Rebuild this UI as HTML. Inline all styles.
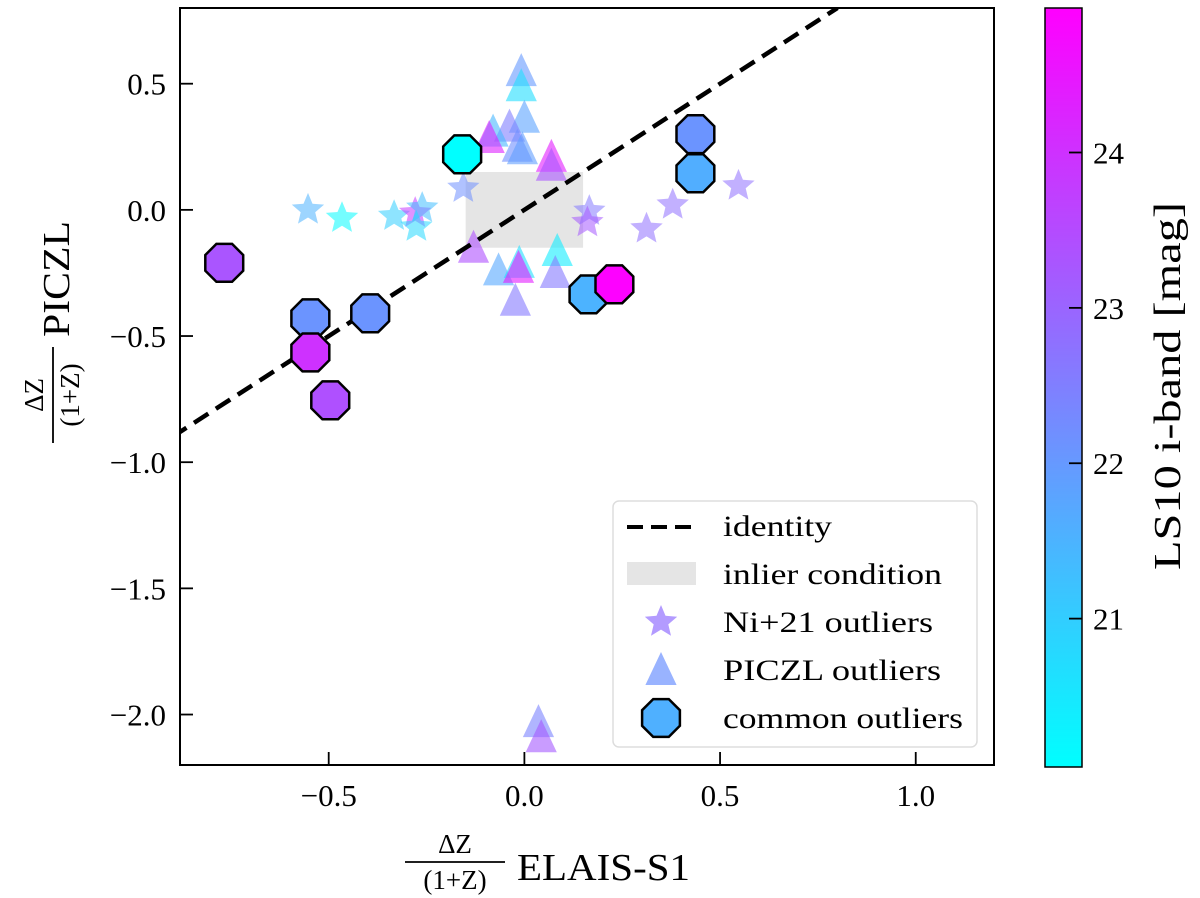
<!DOCTYPE html>
<html><head><meta charset="utf-8">
<style>
html,body{margin:0;padding:0;background:#fff;}
svg{display:block;font-family:"Liberation Serif",serif;}
</style></head>
<body>
<svg id="chart" width="1200" height="898" viewBox="0 0 1200 898">
<defs>
<linearGradient id="cmap" x1="0" y1="1" x2="0" y2="0">
<stop offset="0" stop-color="#00ffff"/><stop offset="1" stop-color="#ff00ff"/>
</linearGradient>
<clipPath id="plotclip"><rect x="180" y="8" width="814" height="757"/></clipPath>
</defs>
<rect x="180" y="8" width="814" height="757" fill="#fff"/>
<g id="marks" clip-path="url(#plotclip)"></g>
<g id="axes"></g>
<rect x="180" y="8" width="814" height="757" fill="none" stroke="#000" stroke-width="2"/>

<g>
<rect x="613" y="501" width="364" height="246" rx="6" fill="#fff" fill-opacity="0.85" stroke="#ddd" stroke-width="1.5"/>
<line x1="627" y1="527" x2="696" y2="527" stroke="#000" stroke-width="4" stroke-dasharray="16,8"/>
<text x="723" y="536" font-size="30" textLength="109" lengthAdjust="spacingAndGlyphs">identity</text>
<rect x="627" y="562" width="69" height="23" fill="#e5e5e5"/>
<text x="723" y="584" font-size="30" textLength="219" lengthAdjust="spacingAndGlyphs">inlier condition</text>
<g id="legStar"></g>
<text x="723" y="632" font-size="30" textLength="210" lengthAdjust="spacingAndGlyphs">Ni+21 outliers</text>
<g id="legTri"></g>
<text x="723" y="680" font-size="30" textLength="218" lengthAdjust="spacingAndGlyphs">PICZL outliers</text>
<g id="legOct"></g>
<text x="723" y="728" font-size="30" textLength="240" lengthAdjust="spacingAndGlyphs">common outliers</text>
</g>

<rect x="1045" y="8" width="37" height="759" fill="url(#cmap)" stroke="#000" stroke-width="1.5"/>
<g id="cbticks"></g>
<text transform="translate(1180,386) rotate(-90)" text-anchor="middle" font-size="38" textLength="368" lengthAdjust="spacingAndGlyphs">LS10 i-band [mag]</text>

<g>
<text x="455" y="853" text-anchor="middle" font-size="27">ΔZ</text>
<line x1="405" y1="862" x2="505" y2="862" stroke="#000" stroke-width="1.8"/>
<text x="455" y="889" text-anchor="middle" font-size="27">(1+Z)</text>
<text x="517" y="880" font-size="38" textLength="173" lengthAdjust="spacingAndGlyphs">ELAIS-S1</text>
</g>
<g transform="translate(52,315) rotate(-90)">
<text x="-80" y="-9" text-anchor="middle" font-size="27">ΔZ</text>
<line x1="-128" y1="1" x2="-32" y2="1" stroke="#000" stroke-width="1.8"/>
<text x="-80" y="27" text-anchor="middle" font-size="27">(1+Z)</text>
<text x="-22" y="17" font-size="38" textLength="116" lengthAdjust="spacingAndGlyphs">PICZL</text>
</g>
</svg>
<script>
// data
const xTicks = [-0.5, 0.0, 0.5, 1.0];
const xTickLabels = ["\u22120.5", "0.0", "0.5", "1.0"];
const yTicks = [0.5, 0.0, -0.5, -1.0, -1.5, -2.0];
const yTickLabels = ["0.5", "0.0", "\u22120.5", "\u22121.0", "\u22121.5", "\u22122.0"];
const cbTicks = [21, 22, 23, 24];
const cbTickLabels = ["21", "22", "23", "24"];

const commonX = [-0.767, -0.547, -0.547, -0.496, -0.394, -0.159, 0.164, 0.23, 0.437, 0.437];
const commonY = [-0.21, -0.43, -0.565, -0.755, -0.41, 0.22, -0.335, -0.295, 0.30, 0.145];
const commonMag = [23.3, 22.1, 24.0, 23.4, 22.1, 20.05, 21.5, 24.9, 22.1, 21.6];

const niX = [-0.553, -0.466, -0.333, -0.279, -0.261, -0.276, -0.156, 0.166, 0.161, 0.312, 0.379, 0.547];
const niY = [0.0, -0.033, -0.025, -0.013, 0.007, -0.068, 0.086, -0.005, -0.05, -0.075, 0.02, 0.095];
const niMag = [21.5, 20.1, 21.0, 23.8, 21.3, 20.8, 22.2, 22.6, 23.2, 22.8, 22.8, 22.8];

const picX = [-0.008, -0.008, 0.0, -0.038, -0.08, -0.09, -0.018, -0.005, 0.069, 0.069, -0.13, -0.066, -0.013, -0.015, 0.084, 0.079, -0.023, 0.036, 0.043];
const picY = [0.55, 0.49, 0.365, 0.33, 0.31, 0.285, 0.25, 0.24, 0.21, 0.175, -0.15, -0.24, -0.21, -0.23, -0.163, -0.25, -0.36, -2.03, -2.09];
const picMag = [22.0, 20.7, 21.8, 22.5, 21.4, 24.3, 22.2, 21.9, 24.4, 23.3, 23.4, 21.7, 20.7, 24.4, 20.4, 22.6, 22.6, 22.4, 23.2];

const identityX = [-0.9, 0.8];
const inlierBox = [-0.15, 0.15];

// axis functions
const X0=-0.88, X1=1.20, PX0=180, PX1=994;
const Y0=-2.2, Y1=0.8, PY0=765, PY1=8;
const VMIN=20.045, VMAX=24.93, CB0=767, CB1=8;
const sx = v => PX0 + (v-X0)/(X1-X0)*(PX1-PX0);
const sy = v => PY0 + (v-Y0)/(Y1-Y0)*(PY1-PY0);
const sc = v => CB0 + (v-VMIN)/(VMAX-VMIN)*(CB1-CB0);
function cmap(m){let t=(m-VMIN)/(VMAX-VMIN);t=Math.max(0,Math.min(1,t));
 return `rgb(${Math.round(255*t)},${Math.round(255*(1-t))},255)`;}

const NS="http://www.w3.org/2000/svg";
function mk(tag, attrs, parent){const e=document.createElementNS(NS,tag);for(const k in attrs)e.setAttribute(k,attrs[k]);parent.appendChild(e);return e;}
function octPts(cx,cy,r){let p=[];for(let i=0;i<8;i++){const a=Math.PI/8+i*Math.PI/4;p.push((cx+r*Math.cos(a)).toFixed(1)+","+(cy+r*Math.sin(a)).toFixed(1));}return p.join(" ");}
function starPts(cx,cy,R){const r=R*0.45;let p=[];for(let i=0;i<10;i++){const a=-Math.PI/2+i*Math.PI/5;const rr=i%2?r:R;p.push((cx+rr*Math.cos(a)).toFixed(1)+","+(cy+rr*Math.sin(a)).toFixed(1));}return p.join(" ");}
function triPts(cx,cy,s){return `${cx},${cy-s*0.6} ${cx-s*0.52},${cy+s*0.5} ${cx+s*0.52},${cy+s*0.5}`;}

const marks=document.getElementById('marks');
const box=mk('rect',{x:sx(inlierBox[0]),y:sy(inlierBox[1]),width:sx(inlierBox[1])-sx(inlierBox[0]),height:sy(inlierBox[0])-sy(inlierBox[1]),fill:'#e5e5e5'},marks);



niX.forEach((x,i)=>{
 const s=mk('polygon',{points:starPts(sx(x),sy(niY[i]),17),fill:cmap(niMag[i]),'fill-opacity':0.55},marks);
 
 
});
picX.forEach((x,i)=>{
 const t=mk('polygon',{points:triPts(sx(x),sy(picY[i]),30),fill:cmap(picMag[i]),'fill-opacity':0.6},marks);
 
 
});
const idl=mk('line',{x1:sx(identityX[0]),y1:sy(identityX[0]),x2:sx(identityX[1]),y2:sy(identityX[1]),stroke:'#000','stroke-width':4.5,'stroke-dasharray':'17,9'},marks);


commonX.forEach((x,i)=>{
 const o=mk('polygon',{points:octPts(sx(x),sy(commonY[i]),20.5),fill:cmap(commonMag[i]),stroke:'#000','stroke-width':2.5},marks);
 
 
});

const axes=document.getElementById('axes');
xTicks.forEach((v,i)=>{
 const l=mk('line',{x1:sx(v),x2:sx(v),y1:PY0,y2:PY0-13,stroke:'#000','stroke-width':1.8},axes);
 
 
 const t=mk('text',{x:sx(v),y:806,'text-anchor':'middle','font-size':31},axes);
 t.textContent=xTickLabels[i];
 
 
});
yTicks.forEach((v,i)=>{
 const l=mk('line',{x1:PX0,x2:PX0+13,y1:sy(v),y2:sy(v),stroke:'#000','stroke-width':1.8},axes);
 
 
 const t=mk('text',{x:166,y:sy(v)+11,'text-anchor':'end','font-size':31},axes);
 t.textContent=yTickLabels[i];
 
 
});
const cbg=document.getElementById('cbticks');
cbTicks.forEach((v,i)=>{
 const l=mk('line',{x1:1069,x2:1082,y1:sc(v),y2:sc(v),stroke:'#000','stroke-width':1.8},cbg);
 
 
 const t=mk('text',{x:1093,y:sc(v)+11,'font-size':31},cbg);
 t.textContent=cbTickLabels[i];
 
 
});
const ls=mk('polygon',{points:starPts(661,622,17),fill:'#b39bff'},document.getElementById('legStar'));


const lt=mk('polygon',{points:triPts(661,670,30),fill:'#99b3ff'},document.getElementById('legTri'));


const lo=mk('polygon',{points:octPts(661,718,20.5),fill:'#4fb0ff',stroke:'#000','stroke-width':2.5},document.getElementById('legOct'));


</script>
</body></html>
